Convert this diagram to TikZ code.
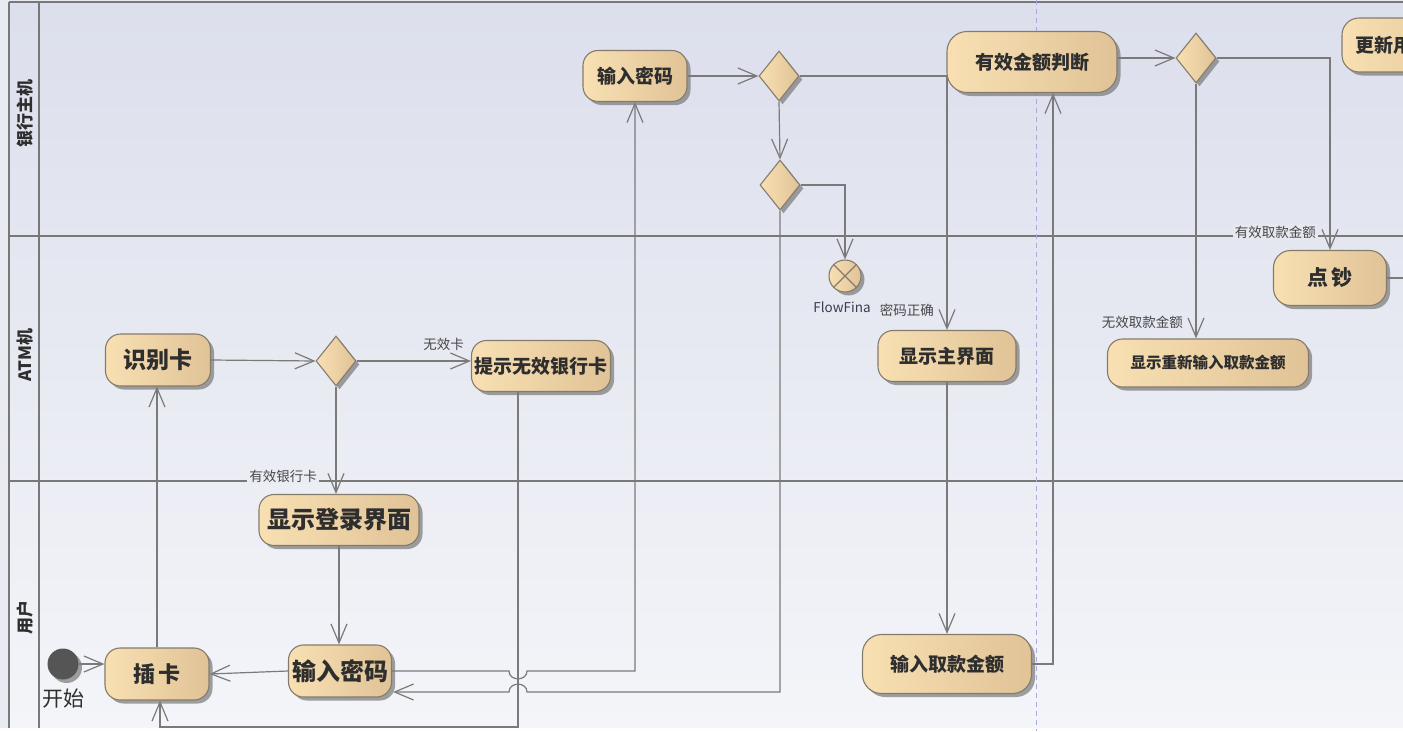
\documentclass[tikz,border=0pt]{standalone}
\usepackage{fontspec}
\setmainfont{Noto Sans CJK SC}
\usetikzlibrary{arrows.meta,shapes.geometric,shadows,calc}
\definecolor{lineC}{HTML}{7A7A7A}
\definecolor{laneLine}{HTML}{787878}
\definecolor{tanL}{HTML}{F8E0B3}
\definecolor{tanR}{HTML}{E0C397}
\definecolor{nodeBorder}{HTML}{857B6C}
\definecolor{laneTop}{HTML}{DCDFEC}
\definecolor{laneBot}{HTML}{F4F5F9}
\definecolor{stripC}{HTML}{E9EBF2}
\definecolor{txt}{HTML}{2E2E2E}
\definecolor{dashC}{HTML}{A9A9DD}
\definecolor{startC}{HTML}{555555}
\definecolor{ffC}{HTML}{3A3D52}
\tikzset{
  shd/.style={drop shadow={shadow xshift=3.5pt,shadow yshift=-3.5pt,fill=black!50,opacity=0.75}},
  act/.style={rectangle, rounded corners=15pt, draw=nodeBorder, line width=1.1pt,
    left color=tanL, right color=tanR, inner sep=0pt, text=txt, shd},
  dec/.style={diamond, draw=nodeBorder, line width=1.1pt, left color=tanL, right color=tanR,
    inner sep=0pt, minimum width=40pt, minimum height=50pt, shd},
  fs/.style={font=\bfseries\fontsize{#1}{#1}\selectfont},
  conn/.style={draw=lineC, line width=1.2pt},
  arr/.style={conn, -{Straight Barb[length=19pt,width=16pt,line width=1.2pt]}},
  lbl/.style={font=\fontsize{13.5}{13.5}\selectfont, text=black!72, inner sep=1pt},
  lane/.style={draw=laneLine, line width=2pt},
  lanename/.style={rotate=90, font=\bfseries\fontsize{17}{17}\selectfont, text=txt},
}
\begin{document}
\begin{tikzpicture}[x=1pt,y=-1pt]
\useasboundingbox (0,0) rectangle (1403,731);
\clip (0,0) rectangle (1403,731);
% background and swimlanes
\fill[stripC] (0,0) rectangle (1403,731);
\shade[top color=laneTop, bottom color=laneBot] (9,2) rectangle (1403,728);
\fill[white!96!laneBot] (0,728) rectangle (1403,731);
\draw[lane] (9,2) -- (1403,2);
\draw[lane] (9,236) -- (1403,236);
\draw[lane] (9,481) -- (1403,481);
\draw[lane] (9,2) -- (9,728);
\draw[lane] (39,2) -- (39,728);
\node[lanename] (L1) at (25,113) {银行主机};
\node[lanename] (L2) at (25,355) {ATM机};
\node[lanename] (L3) at (25,617) {用户};
\draw[dashC, line width=1pt, dash pattern=on 5pt off 4pt] (1036,0) -- (1036,731);

% nodes
\node[act, fs=19, minimum width=104pt, minimum height=51pt] (mima1) at (635,76) {输入密码};
\node[dec] (d1) at (779,76) {};
\node[dec] (d2) at (780,185) {};
\node[act, fs=19, minimum width=170pt, minimum height=61pt, rounded corners=20pt] (panduan) at (1032,62) {有效金额判断};
\node[dec] (d3) at (1196,58) {};
\node[act, fs=19, minimum width=140pt, minimum height=54pt, rounded corners=17pt] (gengxin) at (1412,45) {更新用户账户};
\node[circle, draw=nodeBorder, line width=1.1pt, left color=tanL, right color=tanR, minimum size=32pt, inner sep=0pt, shd] (ff) at (845,276) {};
\draw[draw=nodeBorder, line width=1.1pt] (ff.45) -- (ff.225) (ff.135) -- (ff.-45);
\node[lbl, anchor=north, text=ffC] (fflbl) at ([xshift=-3pt,yshift=-8pt]ff.south) {FlowFina};

\node[act, fs=23, minimum width=105pt, minimum height=52pt] (shibie) at (158,360) {识别卡};
\node[dec] (d4) at (336,361) {};
\node[act, fs=19, minimum width=139pt, minimum height=51pt] (tishi) at (541,366) {提示无效银行卡};
\node[act, fs=19, minimum width=138pt, minimum height=51pt] (zhujie) at (947,356) {显示主界面};
\node[act, fs=21, minimum width=113pt, minimum height=55pt, rounded corners=17pt] (dianchao) at (1330,278) {点\,钞};
\node[act, fs=15.5, minimum width=201pt, minimum height=48pt] (chongxin) at (1208,363) {显示重新输入取款金额};

\node[act, fs=24, minimum width=160pt, minimum height=51pt] (denglu) at (339,520) {显示登录界面};
\node[act, fs=24, minimum width=103pt, minimum height=52pt] (mima2) at (340,671) {输入密码};
\node[act, fs=22, minimum width=104pt, minimum height=52pt] (chaka) at (157,674) {插\,卡};
\node[circle, fill=startC, minimum size=31pt, inner sep=0pt, shd] (start) at (63,664) {};
\node[anchor=north, inner sep=0pt, font=\fontsize{21}{21}\selectfont, text=txt] (startlbl) at ([yshift=-9pt]start.south) {开始};
\node[act, fs=19, minimum width=169pt, minimum height=59pt, rounded corners=19pt] (qukuan) at (947,664) {输入取款金额};

% helper coordinates
\coordinate (tishiout) at ([xshift=-23pt]tishi.south);
\coordinate (hopA) at (tishiout |- mima2.east);
\coordinate (mima2in) at ($(mima2.east)+(1,21)$);
\coordinate (hopB) at (tishiout |- mima2in);
\coordinate (bot) at (0,727);
\coordinate (chakain) at ([xshift=3pt]chaka.south);
\coordinate (e1) at (d4.south |- denglu.north);
\coordinate (e2) at (d4.east -| tishi.west);
\coordinate (e3) at (d3.south |- chongxin.north);
\coordinate (pin) at ([xshift=21pt]panduan.south);
\coordinate (rightend) at (1410,278);

% connectors
\draw[arr] (start.east) -- (start.east -| chaka.west);
\draw[arr] (chaka.north) -- (chaka.north |- shibie.south);
\draw[arr] (shibie.east) -- (d4.west);
\draw[arr] (d4.east) -- (e2);
\node[lbl, anchor=south east] at ([xshift=-6pt,yshift=9pt]e2) {无效卡};
\draw[arr] (d4.south) -- (e1);
\node[lbl, anchor=east, fill=laneTop!35!laneBot, inner sep=2pt] at ([xshift=-17pt,yshift=18pt]e1) {有效银行卡};
\draw[arr] (denglu.south) -- (denglu.south |- mima2.north);
\draw[arr] (mima2.west) -- (chaka.east);
\draw[arr] (mima2.east) -- ($(hopA)+(-9,0)$) .. controls ($(hopA)+(-9,10.5)$) and ($(hopA)+(9,10.5)$) .. ($(hopA)+(9,0)$)
   -- (mima2.east -| mima1.south) -- (mima1.south);
\draw[arr] (tishiout) -- (tishiout |- bot) -- (chakain |- bot) -- (chakain);
\draw[arr] (d2.south) -- (d2.south |- mima2in) -- ($(hopB)+(9,0)$) .. controls ($(hopB)+(9,-10.5)$) and ($(hopB)+(-9,-10.5)$) .. ($(hopB)+(-9,0)$) -- (mima2in);
\draw[arr] (mima1.east) -- (d1.west);
\draw[arr] (d1.south) -- (d2.north);
\draw[arr] (d1.east) -- (d1.east -| zhujie.north) -- (zhujie.north);
\node[lbl, anchor=south east] at ([xshift=-12pt,yshift=12pt]zhujie.north) {密码正确};
\draw[arr] (d2.east) -- (d2.east -| ff.north) -- (ff.north);
\draw[arr] (zhujie.south) -- (qukuan.north);
\draw[arr] (qukuan.east) -- (qukuan.east -| pin) -- (pin);
\draw[arr] (d3.west -| panduan.east) -- (d3.west);
\draw[arr] (d3.east) -- (d3.east -| dianchao.north) -- (dianchao.north);
\node[lbl, anchor=east, fill=laneTop!60!laneBot, inner sep=2pt] at ([xshift=-12pt,yshift=18pt]dianchao.north) {有效取款金额};
\draw[arr] (d3.south) -- (e3);
\node[lbl, anchor=south east] at ([xshift=-12pt,yshift=9pt]e3) {无效取款金额};
\draw[conn] (dianchao.east) -- (rightend);
\end{tikzpicture}
\end{document}
